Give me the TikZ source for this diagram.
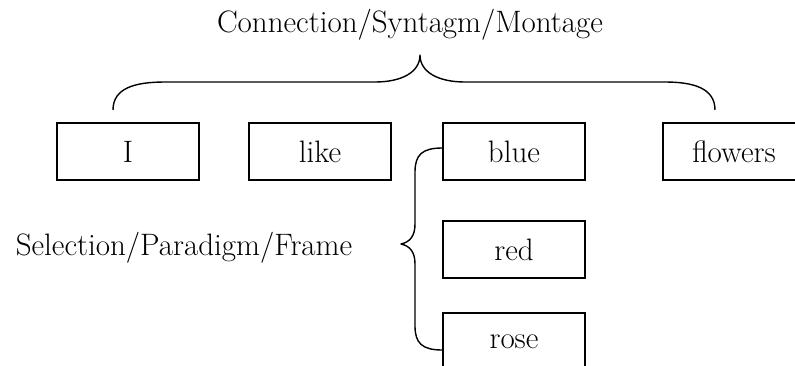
\documentclass[tikz,border=0pt]{standalone}
\usetikzlibrary{calc}
\begin{document}
\begin{tikzpicture}[x=1pt,y=-1pt,
  every node/.style={font=\fontsize{31}{36}\selectfont},
  word/.style={draw,line width=1.4pt,minimum width=142pt,minimum height=57pt,inner sep=0pt},
  bracket/.style={line width=1.4pt,line join=round}]
\clip (0,0) rectangle (795,365);

% words of the sentence (syntagmatic axis)
\node[word] (i)       at (128,151.5) {I};
\node[word] (like)    at (320,151.5) {like};
\node[word] (blue)    at (514,151.5) {blue};
\node[word] (flowers) at (734,151.5) {flowers};

% alternatives for the adjective (paradigmatic axis)
\node[word] (red)  at (514,249.5) {red};
\node[word] (rose) at (514,341.5) {rose};

% axis labels
\node (conn) at (410,25)  {Connection/Syntagm/Montage};
\node (sel)  at (184,248) {Selection/Paradigm/Frame};

% horizontal brace over the sentence
\coordinate (tl) at (113,110);
\coordinate (tt) at (420,55);
\coordinate (tr) at (715,110);
\draw[bracket] (tl) .. controls (113,88) and (135,82) .. (165,82)
  -- (375,82) .. controls (402,82) and (420,72) .. (tt)
  .. controls (420,72) and (438,82) .. (465,82)
  -- (665,82) .. controls (693,82) and (715,88) .. (tr);

% vertical brace beside the alternatives
\coordinate (lt) at (blue.west |- 0,148);
\coordinate (lb) at (rose.west |- 0,350);
\coordinate (lm) at (401,244);
\draw[bracket] (lt) .. controls (422,148) and (415,155) .. (415,172)
  -- (415,224) .. controls (415,236) and (410,242) .. (lm)
  .. controls (410,246) and (415,252) .. (415,264)
  -- (415,326) .. controls (415,343) and (422,350) .. (lb);
\end{tikzpicture}
\end{document}
